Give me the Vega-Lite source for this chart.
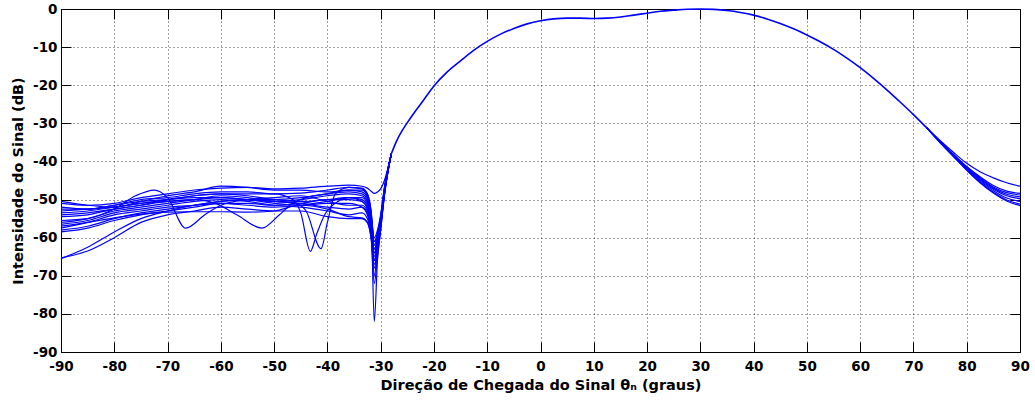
{
  "$schema": "https://vega.github.io/schema/vega-lite/v6.json",
  "width": 959,
  "height": 343,
  "autosize": {"type": "none"},
  "padding": {"left": 61, "top": 9, "right": 15, "bottom": 54},
  "background": "white",
  "config": {
    "view": {"stroke": "#000", "strokeWidth": 1},
    "font": "DejaVu Sans",
    "axis": {
      "domainColor": "#000",
      "domainWidth": 1,
      "tickColor": "#000",
      "tickWidth": 1,
      "gridColor": "#000",
      "gridDash": [1, 3],
      "gridOpacity": 0.75,
      "gridWidth": 1,
      "labelFont": "DejaVu Sans",
      "labelFontWeight": "bold",
      "labelFontSize": 13.5,
      "labelColor": "#000",
      "titleFont": "DejaVu Sans",
      "titleFontWeight": "bold",
      "titleFontSize": 14.5,
      "titleColor": "#000"
    }
  },
  "datasets": {
    "side": [
      {"c":"s1","x":-90,"y":-51},{"c":"s1","x":-85,"y":-51.5},{"c":"s1","x":-80,"y":-51},{"c":"s1","x":-75,"y":-49.5},{"c":"s1","x":-70,"y":-48.5},{"c":"s1","x":-65,"y":-47.5},{"c":"s1","x":-60,"y":-47},{"c":"s1","x":-55,"y":-46.8},{"c":"s1","x":-50,"y":-47.2},{"c":"s1","x":-45,"y":-47},{"c":"s1","x":-40,"y":-46.5},{"c":"s1","x":-36,"y":-46.2},{"c":"s1","x":-33.5,"y":-46.5},{"c":"s1","x":-32.5,"y":-47},{"c":"s1","x":-31.8,"y":-47.8},{"c":"s1","x":-31.2,"y":-48.4},{"c":"s1","x":-30.6,"y":-48},{"c":"s1","x":-30,"y":-47.2},{"c":"s1","x":-29.3,"y":-45},{"c":"s1","x":-28,"y":-38},
      {"c":"s2","x":-90,"y":-50.5},{"c":"s2","x":-85,"y":-51.5},{"c":"s2","x":-80,"y":-52},{"c":"s2","x":-75,"y":-50.5},{"c":"s2","x":-70,"y":-49},{"c":"s2","x":-65,"y":-48},{"c":"s2","x":-60,"y":-46.5},{"c":"s2","x":-55,"y":-46.8},{"c":"s2","x":-50,"y":-47.5},{"c":"s2","x":-45,"y":-47.5},{"c":"s2","x":-40,"y":-48},{"c":"s2","x":-36,"y":-47.5},{"c":"s2","x":-33.5,"y":-48},{"c":"s2","x":-32.5,"y":-49.5},{"c":"s2","x":-31.8,"y":-54},{"c":"s2","x":-31.2,"y":-60},{"c":"s2","x":-30.6,"y":-58},{"c":"s2","x":-30,"y":-54},{"c":"s2","x":-29.3,"y":-47},{"c":"s2","x":-28,"y":-38},
      {"c":"s3","x":-90,"y":-52},{"c":"s3","x":-85,"y":-52.5},{"c":"s3","x":-80,"y":-51.5},{"c":"s3","x":-75,"y":-50},{"c":"s3","x":-70,"y":-49.5},{"c":"s3","x":-65,"y":-48.5},{"c":"s3","x":-60,"y":-48},{"c":"s3","x":-55,"y":-48},{"c":"s3","x":-50,"y":-48.5},{"c":"s3","x":-45,"y":-48.3},{"c":"s3","x":-40,"y":-47.5},{"c":"s3","x":-36,"y":-46.8},{"c":"s3","x":-33.5,"y":-47},{"c":"s3","x":-32.5,"y":-48.5},{"c":"s3","x":-31.8,"y":-53},{"c":"s3","x":-31.2,"y":-62},{"c":"s3","x":-30.6,"y":-59},{"c":"s3","x":-30,"y":-54.5},{"c":"s3","x":-29.3,"y":-47},{"c":"s3","x":-28,"y":-38},
      {"c":"s4","x":-90,"y":-53.5},{"c":"s4","x":-85,"y":-53},{"c":"s4","x":-80,"y":-52},{"c":"s4","x":-75,"y":-51},{"c":"s4","x":-70,"y":-50},{"c":"s4","x":-65,"y":-49},{"c":"s4","x":-60,"y":-48.5},{"c":"s4","x":-55,"y":-49},{"c":"s4","x":-50,"y":-50},{"c":"s4","x":-45,"y":-50.5},{"c":"s4","x":-40,"y":-50},{"c":"s4","x":-36,"y":-49.5},{"c":"s4","x":-33.5,"y":-50.5},{"c":"s4","x":-32.5,"y":-52.5},{"c":"s4","x":-31.8,"y":-57},{"c":"s4","x":-31.2,"y":-64},{"c":"s4","x":-30.6,"y":-61},{"c":"s4","x":-30,"y":-56},{"c":"s4","x":-29.3,"y":-48},{"c":"s4","x":-28,"y":-38},
      {"c":"s5","x":-90,"y":-54.5},{"c":"s5","x":-85,"y":-54},{"c":"s5","x":-80,"y":-52.5},{"c":"s5","x":-75,"y":-51.5},{"c":"s5","x":-70,"y":-50.5},{"c":"s5","x":-65,"y":-50},{"c":"s5","x":-60,"y":-49.5},{"c":"s5","x":-55,"y":-50},{"c":"s5","x":-50,"y":-51},{"c":"s5","x":-45,"y":-51.5},{"c":"s5","x":-40,"y":-51},{"c":"s5","x":-36,"y":-51},{"c":"s5","x":-33.5,"y":-52},{"c":"s5","x":-32.5,"y":-54},{"c":"s5","x":-31.8,"y":-58.5},{"c":"s5","x":-31.2,"y":-66},{"c":"s5","x":-30.6,"y":-62},{"c":"s5","x":-30,"y":-56.5},{"c":"s5","x":-29.3,"y":-48},{"c":"s5","x":-28,"y":-38},
      {"c":"s6","x":-90,"y":-55.5},{"c":"s6","x":-85,"y":-55},{"c":"s6","x":-80,"y":-53},{"c":"s6","x":-75,"y":-52},{"c":"s6","x":-70,"y":-51},{"c":"s6","x":-65,"y":-50},{"c":"s6","x":-60,"y":-49},{"c":"s6","x":-55,"y":-49.5},{"c":"s6","x":-50,"y":-50.5},{"c":"s6","x":-45,"y":-51},{"c":"s6","x":-40,"y":-52},{"c":"s6","x":-36,"y":-52.5},{"c":"s6","x":-33.5,"y":-52},{"c":"s6","x":-32.5,"y":-53.5},{"c":"s6","x":-31.8,"y":-58},{"c":"s6","x":-31.2,"y":-63},{"c":"s6","x":-30.6,"y":-60},{"c":"s6","x":-30,"y":-55.5},{"c":"s6","x":-29.3,"y":-47.5},{"c":"s6","x":-28,"y":-38},
      {"c":"s7","x":-90,"y":-56.5},{"c":"s7","x":-85,"y":-55.5},{"c":"s7","x":-80,"y":-53.5},{"c":"s7","x":-75,"y":-52.5},{"c":"s7","x":-70,"y":-51.5},{"c":"s7","x":-65,"y":-50.5},{"c":"s7","x":-60,"y":-50},{"c":"s7","x":-55,"y":-50.5},{"c":"s7","x":-50,"y":-51.5},{"c":"s7","x":-45,"y":-52},{"c":"s7","x":-40,"y":-53},{"c":"s7","x":-36,"y":-54},{"c":"s7","x":-33.5,"y":-53.5},{"c":"s7","x":-32.5,"y":-55},{"c":"s7","x":-31.8,"y":-59.5},{"c":"s7","x":-31.2,"y":-68},{"c":"s7","x":-30.6,"y":-63},{"c":"s7","x":-30,"y":-57},{"c":"s7","x":-29.3,"y":-48.5},{"c":"s7","x":-28,"y":-38},
      {"c":"s8","x":-90,"y":-57.5},{"c":"s8","x":-85,"y":-56},{"c":"s8","x":-80,"y":-54},{"c":"s8","x":-75,"y":-53},{"c":"s8","x":-70,"y":-52},{"c":"s8","x":-65,"y":-51.5},{"c":"s8","x":-60,"y":-51},{"c":"s8","x":-55,"y":-51.5},{"c":"s8","x":-50,"y":-52},{"c":"s8","x":-45,"y":-51.5},{"c":"s8","x":-40,"y":-50.5},{"c":"s8","x":-36,"y":-49.5},{"c":"s8","x":-33.5,"y":-49.5},{"c":"s8","x":-32.5,"y":-51},{"c":"s8","x":-31.8,"y":-55},{"c":"s8","x":-31.2,"y":-61},{"c":"s8","x":-30.6,"y":-59},{"c":"s8","x":-30,"y":-55},{"c":"s8","x":-29.3,"y":-47.5},{"c":"s8","x":-28,"y":-38},
      {"c":"s9","x":-90,"y":-58},{"c":"s9","x":-85,"y":-57},{"c":"s9","x":-80,"y":-55},{"c":"s9","x":-75,"y":-53.5},{"c":"s9","x":-70,"y":-52.5},{"c":"s9","x":-65,"y":-51.5},{"c":"s9","x":-60,"y":-50.5},{"c":"s9","x":-55,"y":-50},{"c":"s9","x":-50,"y":-50.5},{"c":"s9","x":-45,"y":-50},{"c":"s9","x":-40,"y":-49},{"c":"s9","x":-36,"y":-48.5},{"c":"s9","x":-33.5,"y":-49},{"c":"s9","x":-32.5,"y":-50.5},{"c":"s9","x":-31.8,"y":-55},{"c":"s9","x":-31.2,"y":-65},{"c":"s9","x":-30.6,"y":-61},{"c":"s9","x":-30,"y":-56},{"c":"s9","x":-29.3,"y":-48},{"c":"s9","x":-28,"y":-38},
      {"c":"s10","x":-90,"y":-58.5},{"c":"s10","x":-85,"y":-57.5},{"c":"s10","x":-80,"y":-55.5},{"c":"s10","x":-75,"y":-54},{"c":"s10","x":-70,"y":-53},{"c":"s10","x":-65,"y":-52},{"c":"s10","x":-60,"y":-51},{"c":"s10","x":-55,"y":-51},{"c":"s10","x":-50,"y":-51.5},{"c":"s10","x":-45,"y":-51},{"c":"s10","x":-40,"y":-50},{"c":"s10","x":-36,"y":-50},{"c":"s10","x":-33.5,"y":-50.5},{"c":"s10","x":-32.5,"y":-52},{"c":"s10","x":-31.8,"y":-56.5},{"c":"s10","x":-31.2,"y":-70},{"c":"s10","x":-30.6,"y":-63},{"c":"s10","x":-30,"y":-57},{"c":"s10","x":-29.3,"y":-48.5},{"c":"s10","x":-28,"y":-38},
      {"c":"s11","x":-90,"y":-65.5},{"c":"s11","x":-85,"y":-62.5},{"c":"s11","x":-80,"y":-58.5},{"c":"s11","x":-75,"y":-55},{"c":"s11","x":-70,"y":-53},{"c":"s11","x":-65,"y":-51.5},{"c":"s11","x":-60,"y":-50.5},{"c":"s11","x":-55,"y":-50},{"c":"s11","x":-50,"y":-50},{"c":"s11","x":-45,"y":-49.5},{"c":"s11","x":-40,"y":-48.5},{"c":"s11","x":-36,"y":-47.5},{"c":"s11","x":-33.5,"y":-47.5},{"c":"s11","x":-32.5,"y":-49},{"c":"s11","x":-31.8,"y":-54},{"c":"s11","x":-31.2,"y":-82},{"c":"s11","x":-30.6,"y":-66},{"c":"s11","x":-30,"y":-58},{"c":"s11","x":-29.3,"y":-49},{"c":"s11","x":-28,"y":-38},
      {"c":"s12","x":-90,"y":-65.3},{"c":"s12","x":-85,"y":-63.5},{"c":"s12","x":-80,"y":-60},{"c":"s12","x":-75,"y":-56},{"c":"s12","x":-70,"y":-54},{"c":"s12","x":-65,"y":-53},{"c":"s12","x":-60,"y":-52},{"c":"s12","x":-55,"y":-52.5},{"c":"s12","x":-50,"y":-53},{"c":"s12","x":-45,"y":-53},{"c":"s12","x":-40,"y":-54.5},{"c":"s12","x":-36,"y":-55},{"c":"s12","x":-33.5,"y":-55},{"c":"s12","x":-32.5,"y":-56},{"c":"s12","x":-31.8,"y":-60},{"c":"s12","x":-31.2,"y":-72},{"c":"s12","x":-30.6,"y":-65},{"c":"s12","x":-30,"y":-58},{"c":"s12","x":-29.3,"y":-49},{"c":"s12","x":-28,"y":-38},
      {"c":"s13","x":-90,"y":-56},{"c":"s13","x":-85,"y":-55},{"c":"s13","x":-80,"y":-52.5},{"c":"s13","x":-76,"y":-49},{"c":"s13","x":-72.5,"y":-47.5},{"c":"s13","x":-70,"y":-49.5},{"c":"s13","x":-66.6,"y":-57.5},{"c":"s13","x":-63,"y":-54},{"c":"s13","x":-60,"y":-51.5},{"c":"s13","x":-55,"y":-50},{"c":"s13","x":-50,"y":-49.5},{"c":"s13","x":-45,"y":-49},{"c":"s13","x":-40,"y":-50.5},{"c":"s13","x":-36,"y":-51.5},{"c":"s13","x":-33.5,"y":-51.5},{"c":"s13","x":-32.5,"y":-53},{"c":"s13","x":-31.8,"y":-57},{"c":"s13","x":-31.2,"y":-63},{"c":"s13","x":-30.6,"y":-60},{"c":"s13","x":-30,"y":-55.5},{"c":"s13","x":-29.3,"y":-48},{"c":"s13","x":-28,"y":-38},
      {"c":"s14","x":-90,"y":-53},{"c":"s14","x":-85,"y":-52.5},{"c":"s14","x":-80,"y":-52},{"c":"s14","x":-75,"y":-51},{"c":"s14","x":-70,"y":-50.5},{"c":"s14","x":-65,"y":-50},{"c":"s14","x":-61,"y":-51},{"c":"s14","x":-57,"y":-54},{"c":"s14","x":-52.3,"y":-57.5},{"c":"s14","x":-49,"y":-54},{"c":"s14","x":-46.5,"y":-51},{"c":"s14","x":-44,"y":-49.5},{"c":"s14","x":-40,"y":-48.5},{"c":"s14","x":-36,"y":-48},{"c":"s14","x":-33.5,"y":-48.5},{"c":"s14","x":-32.5,"y":-50},{"c":"s14","x":-31.8,"y":-55},{"c":"s14","x":-31.2,"y":-64},{"c":"s14","x":-30.6,"y":-61},{"c":"s14","x":-30,"y":-56},{"c":"s14","x":-29.3,"y":-48},{"c":"s14","x":-28,"y":-38},
      {"c":"s15","x":-90,"y":-54},{"c":"s15","x":-85,"y":-53.5},{"c":"s15","x":-80,"y":-52.5},{"c":"s15","x":-75,"y":-51.5},{"c":"s15","x":-70,"y":-50},{"c":"s15","x":-65,"y":-49},{"c":"s15","x":-60,"y":-48.5},{"c":"s15","x":-55,"y":-48.5},{"c":"s15","x":-50,"y":-48.5},{"c":"s15","x":-46.5,"y":-50},{"c":"s15","x":-45,"y":-53.5},{"c":"s15","x":-43.2,"y":-63.6},{"c":"s15","x":-42,"y":-59},{"c":"s15","x":-40.5,"y":-54},{"c":"s15","x":-38,"y":-50.5},{"c":"s15","x":-36,"y":-49.5},{"c":"s15","x":-33.5,"y":-50},{"c":"s15","x":-32.5,"y":-51.5},{"c":"s15","x":-31.8,"y":-56},{"c":"s15","x":-31.2,"y":-66},{"c":"s15","x":-30.6,"y":-62},{"c":"s15","x":-30,"y":-56},{"c":"s15","x":-29.3,"y":-48},{"c":"s15","x":-28,"y":-38},
      {"c":"s16","x":-90,"y":-52.5},{"c":"s16","x":-85,"y":-52.5},{"c":"s16","x":-80,"y":-51.5},{"c":"s16","x":-75,"y":-50.5},{"c":"s16","x":-70,"y":-50},{"c":"s16","x":-65,"y":-49.5},{"c":"s16","x":-60,"y":-49.5},{"c":"s16","x":-55,"y":-50},{"c":"s16","x":-50,"y":-50.5},{"c":"s16","x":-46,"y":-51},{"c":"s16","x":-44,"y":-53},{"c":"s16","x":-41.2,"y":-62.9},{"c":"s16","x":-40,"y":-56},{"c":"s16","x":-38.5,"y":-48.5},{"c":"s16","x":-36,"y":-46.8},{"c":"s16","x":-33.5,"y":-47.2},{"c":"s16","x":-32.5,"y":-48.5},{"c":"s16","x":-31.8,"y":-53},{"c":"s16","x":-31.2,"y":-61},{"c":"s16","x":-30.6,"y":-59},{"c":"s16","x":-30,"y":-54.5},{"c":"s16","x":-29.3,"y":-47},{"c":"s16","x":-28,"y":-38},
      {"c":"s17","x":-90,"y":-57},{"c":"s17","x":-85,"y":-56},{"c":"s17","x":-80,"y":-54.8},{"c":"s17","x":-75,"y":-53.8},{"c":"s17","x":-70,"y":-53.3},{"c":"s17","x":-65,"y":-53.2},{"c":"s17","x":-60,"y":-53.2},{"c":"s17","x":-55,"y":-53.3},{"c":"s17","x":-50,"y":-53},{"c":"s17","x":-45,"y":-51.5},{"c":"s17","x":-40,"y":-52.5},{"c":"s17","x":-36,"y":-54.5},{"c":"s17","x":-33.5,"y":-54.8},{"c":"s17","x":-32.5,"y":-56},{"c":"s17","x":-31.8,"y":-60},{"c":"s17","x":-31.2,"y":-67},{"c":"s17","x":-30.6,"y":-63},{"c":"s17","x":-30,"y":-57},{"c":"s17","x":-29.3,"y":-48.5},{"c":"s17","x":-28,"y":-38}
    ],
    "main": [
      {"x":-28,"y":-38},{"x":-27,"y":-34.6},{"x":-26,"y":-32},{"x":-25,"y":-29.8},{"x":-24,"y":-27.8},{"x":-22,"y":-24},{"x":-20,"y":-20.2},{"x":-17.5,"y":-16.5},{"x":-15,"y":-13.6},{"x":-12.5,"y":-10.8},{"x":-10,"y":-8.5},{"x":-7.5,"y":-6.6},{"x":-5,"y":-5.1},{"x":-2.5,"y":-3.9},{"x":0,"y":-3.1},{"x":2.5,"y":-2.6},{"x":5,"y":-2.4},{"x":7.5,"y":-2.4},{"x":10,"y":-2.5},{"x":12.5,"y":-2.4},{"x":15,"y":-2.1},{"x":17.5,"y":-1.6},{"x":20,"y":-1.1},{"x":22.5,"y":-0.6},{"x":25,"y":-0.3},{"x":27.5,"y":-0.05},{"x":30,"y":0},{"x":32.5,"y":-0.1},{"x":35,"y":-0.4},{"x":37.5,"y":-0.9},{"x":40,"y":-1.6},{"x":42.5,"y":-2.6},{"x":45,"y":-3.8},{"x":47.5,"y":-5.2},{"x":50,"y":-6.8},{"x":52.5,"y":-8.6},{"x":55,"y":-10.6},{"x":57.5,"y":-12.9},{"x":60,"y":-15.4},{"x":62.5,"y":-18.2},{"x":65,"y":-21.2},{"x":67.5,"y":-24.4},{"x":70,"y":-27.7},{"x":72.5,"y":-31.2}
    ],
    "tail": [
      {"c":"t1","x":72.5,"y":-31.2},{"c":"t1","x":75,"y":-34.5},{"c":"t1","x":77.5,"y":-37.6},{"c":"t1","x":80,"y":-40.5},{"c":"t1","x":82.5,"y":-42.7},{"c":"t1","x":85,"y":-44.3},{"c":"t1","x":87.5,"y":-45.6},{"c":"t1","x":90,"y":-46.5},
      {"c":"t2","x":72.5,"y":-31.2},{"c":"t2","x":75,"y":-34.8},{"c":"t2","x":77.5,"y":-38.1},{"c":"t2","x":80,"y":-41.3},{"c":"t2","x":82.5,"y":-44},{"c":"t2","x":85,"y":-46.3},{"c":"t2","x":87.5,"y":-47.8},{"c":"t2","x":90,"y":-48.4},
      {"c":"t3","x":72.5,"y":-31.2},{"c":"t3","x":75,"y":-34.8},{"c":"t3","x":77.5,"y":-38.2},{"c":"t3","x":80,"y":-41.5},{"c":"t3","x":82.5,"y":-44.3},{"c":"t3","x":85,"y":-46.7},{"c":"t3","x":87.5,"y":-48.2},{"c":"t3","x":90,"y":-48.8},
      {"c":"t4","x":72.5,"y":-31.2},{"c":"t4","x":75,"y":-34.9},{"c":"t4","x":77.5,"y":-38.3},{"c":"t4","x":80,"y":-41.6},{"c":"t4","x":82.5,"y":-44.5},{"c":"t4","x":85,"y":-47},{"c":"t4","x":87.5,"y":-48.6},{"c":"t4","x":90,"y":-49.3},
      {"c":"t5","x":72.5,"y":-31.2},{"c":"t5","x":75,"y":-34.9},{"c":"t5","x":77.5,"y":-38.4},{"c":"t5","x":80,"y":-41.8},{"c":"t5","x":82.5,"y":-44.8},{"c":"t5","x":85,"y":-47.3},{"c":"t5","x":87.5,"y":-49},{"c":"t5","x":90,"y":-49.8},
      {"c":"t6","x":72.5,"y":-31.2},{"c":"t6","x":75,"y":-35},{"c":"t6","x":77.5,"y":-38.5},{"c":"t6","x":80,"y":-42},{"c":"t6","x":82.5,"y":-45.1},{"c":"t6","x":85,"y":-47.7},{"c":"t6","x":87.5,"y":-49.6},{"c":"t6","x":90,"y":-50.5},
      {"c":"t7","x":72.5,"y":-31.2},{"c":"t7","x":75,"y":-35},{"c":"t7","x":77.5,"y":-38.6},{"c":"t7","x":80,"y":-42.2},{"c":"t7","x":82.5,"y":-45.4},{"c":"t7","x":85,"y":-48.1},{"c":"t7","x":87.5,"y":-50.1},{"c":"t7","x":90,"y":-51.2},
      {"c":"t8","x":72.5,"y":-31.2},{"c":"t8","x":75,"y":-35.1},{"c":"t8","x":77.5,"y":-38.7},{"c":"t8","x":80,"y":-42.3},{"c":"t8","x":82.5,"y":-45.6},{"c":"t8","x":85,"y":-48.3},{"c":"t8","x":87.5,"y":-50.4},{"c":"t8","x":90,"y":-51.6}
    ]
  },
  "layer": [
    {
      "encoding": {
        "x": {
          "field": "x",
          "type": "quantitative",
          "scale": {"domain": [-90, 90], "nice": false, "zero": false},
          "axis": {
            "values": [-90, -80, -70, -60, -50, -40, -30, -20, -10, 0, 10, 20, 30, 40, 50, 60, 70, 80, 90],
            "labelExpr": "'' + datum.value",
            "title": "Direção de Chegada do Sinal θₙ (graus)",
            "grid": true,
            "tickSize": -10,
            "labelPadding": 17,
            "labelFlush": false,
            "titlePadding": 6
          }
        },
        "y": {
          "field": "y",
          "type": "quantitative",
          "scale": {"domain": [-90, 0], "nice": false, "zero": false},
          "axis": {
            "values": [-90, -80, -70, -60, -50, -40, -30, -20, -10, 0],
            "labelExpr": "'' + datum.value",
            "title": "Intensidade do Sinal (dB)",
            "grid": true,
            "tickSize": -10,
            "labelPadding": 14,
            "labelFlush": false,
            "titlePadding": 7
          }
        }
      },
      "layer": [
        {
          "data": {"name": "side"},
          "mark": {"type": "line", "interpolate": "monotone", "color": "#0000ff", "strokeWidth": 1.2},
          "encoding": {"detail": {"field": "c"}}
        },
        {
          "data": {"name": "main"},
          "mark": {"type": "line", "interpolate": "monotone", "color": "#0000ff", "strokeWidth": 1.6}
        },
        {
          "data": {"name": "tail"},
          "mark": {"type": "line", "interpolate": "monotone", "color": "#0000ff", "strokeWidth": 1.2},
          "encoding": {"detail": {"field": "c"}}
        }
      ]
    },
    {
      "data": {"name": "main"},
      "mark": {"type": "line", "opacity": 0},
      "encoding": {
        "x": {
          "field": "x",
          "type": "quantitative",
          "scale": {"domain": [-90, 90], "nice": false, "zero": false},
          "axis": {"orient": "top", "values": [-90, -80, -70, -60, -50, -40, -30, -20, -10, 0, 10, 20, 30, 40, 50, 60, 70, 80, 90], "labels": false, "title": null, "grid": false, "domain": false, "tickSize": -10}
        },
        "y": {
          "field": "y",
          "type": "quantitative",
          "scale": {"domain": [-90, 0], "nice": false, "zero": false},
          "axis": {"orient": "right", "values": [-90, -80, -70, -60, -50, -40, -30, -20, -10, 0], "labels": false, "title": null, "grid": false, "domain": false, "tickSize": -10}
        }
      }
    }
  ],
  "resolve": {"axis": {"x": "independent", "y": "independent"}}
}
